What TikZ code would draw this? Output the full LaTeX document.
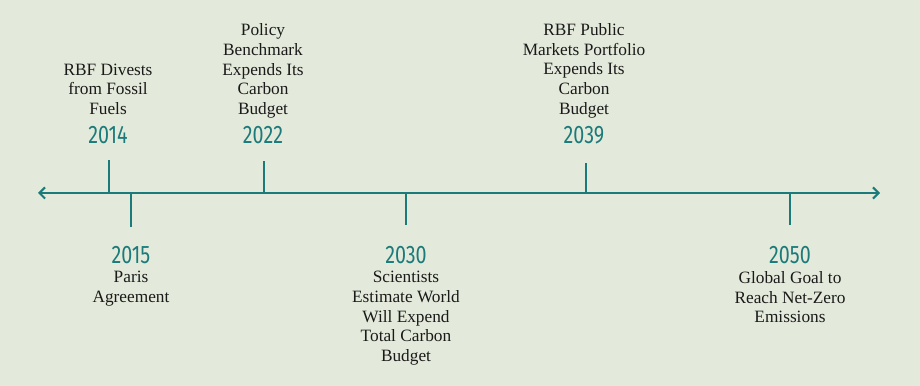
\documentclass[tikz,border=0pt]{standalone}
\usepackage{fontspec}
\setmainfont{Liberation Serif}
\newfontfamily\yearfont[FakeStretch=0.78]{Fira Sans}
\usetikzlibrary{%
	arrows.meta,%
	positioning%
}
\definecolor{tlteal}{HTML}{1B7B7B}
\definecolor{tlback}{HTML}{E4EADB}
\definecolor{tltext}{HTML}{1A1A1A}

\begin{document}
\begin{tikzpicture}[x=0.025cm,y=-0.025cm,
		>={Straight Barb[length=4pt,width=8pt]},
		axis/.style={draw=tlteal,line width=1.5pt},
		year/.style={text=tlteal,font=\yearfont\fontsize{18}{18}\selectfont,inner sep=0pt},
		evtext/.style={align=center,text=tltext,font=\fontsize{12.3}{14}\selectfont,inner sep=0pt}]
				% Background
				\fill[tlback] (0,0) rectangle (920,386);
				\useasboundingbox (0,0) rectangle (920,386);
				
				% Axis
				\coordinate (ax0) at (38,193);
				\coordinate (ax1) at (880,193);
				\draw[axis,<->] (ax0) -- (ax1);
				
				% Ticks
				\foreach \yr/\x/\y in {2014/109/160,2022/264/161,2039/586/163,2015/131/227,2030/406/225,2050/790/225}{
					\coordinate (b\yr) at (\x,193);
					\coordinate (t\yr) at (\x,\y);
					\draw[axis] (b\yr) -- (t\yr);
				}
				
				% Years
				\node[year] (y2014) at (108,135) {2014};
				\node[year] (y2022) at (263,135) {2022};
				\node[year] (y2039) at (584,135) {2039};
				\node[year] (y2015) at (131,255) {2015};
				\node[year] (y2030) at (406,255) {2030};
				\node[year] (y2050) at (790,255) {2050};
				
				% Events above
				\node[evtext,text depth=0pt,above=8pt of y2014] (e2014) {RBF Divests\\from Fossil\\Fuels};
				\node[evtext,text depth=0pt,above=8pt of y2022] (e2022) {Policy\\Benchmark\\Expends Its\\Carbon\\Budget};
				\node[evtext,text depth=0pt,above=8pt of y2039] (e2039) {RBF Public\\Markets Portfolio\\Expends Its\\Carbon\\Budget};
				
				% Events below
				\node[evtext,below=5pt of y2015] (e2015) {Paris\\Agreement};
				\node[evtext,below=5pt of y2030] (e2030) {Scientists\\Estimate World\\Will Expend\\Total Carbon\\Budget};
				\node[evtext,below=5pt of y2050] (e2050) {Global Goal to\\Reach Net-Zero\\Emissions};
			\end{tikzpicture}
\end{document}
